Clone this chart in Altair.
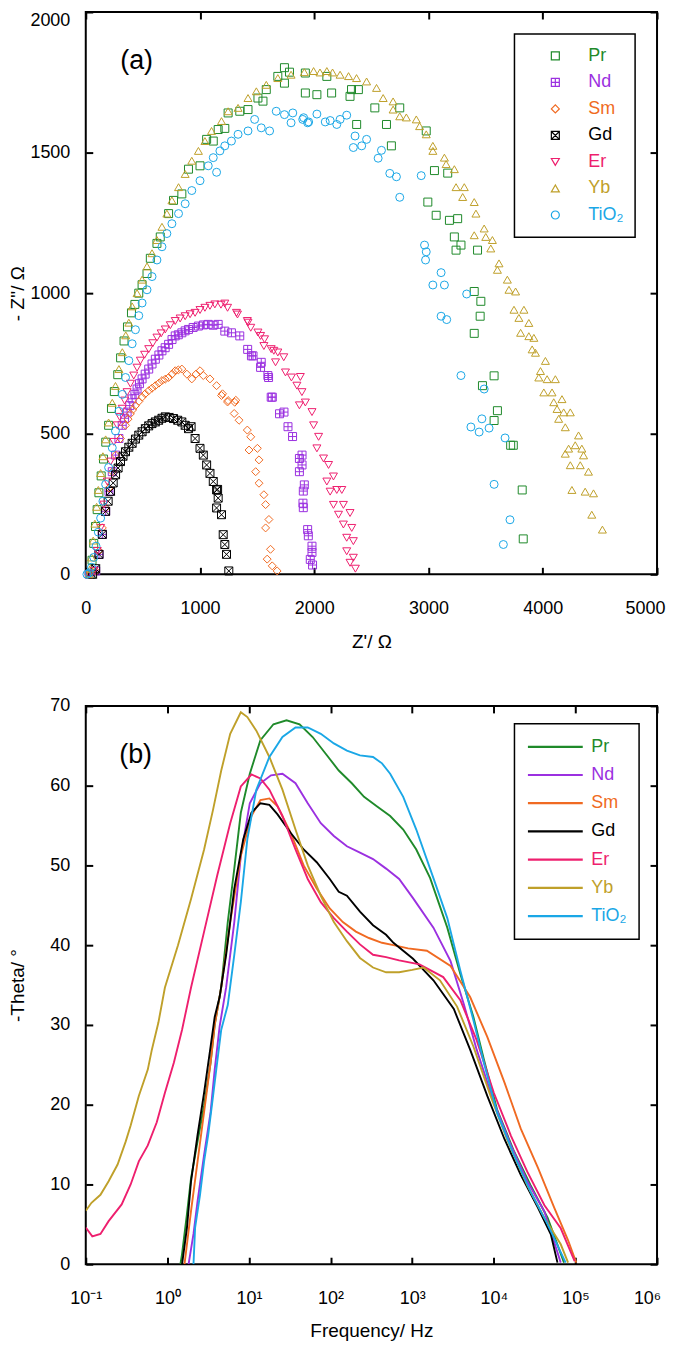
import altair as alt
import pandas as pd

SERIES = ["Pr", "Nd", "Sm", "Gd", "Er", "Yb", "TiO₂"]
COLORS = ["#1f8a2a", "#9b30e0", "#f06a22", "#000000", "#ee1f6e", "#bfa02a", "#1aa7e6"]
SQ_PLUS = "M-1,-1H1V1H-1Z M0,-1V1 M-1,0H1"
SQ_X = "M-1,-1H1V1H-1Z M-1,-1L1,1 M-1,1L1,-1"
SHAPES = ["square", SQ_PLUS, "diamond", SQ_X, "triangle-down", "triangle-up", "circle"]

# ---------------- (a) Nyquist: (Z', -Z'') ----------------
PR_A = [(40,0),(55,50),(70,110),(85,170),(100,230),(115,290),(135,350),(155,410),(175,470),(200,530),
        (225,590),(250,650),(280,710),(305,770),(335,830),(365,880),(400,930),(430,960),(464,1000),(493,1030),
        (536,1070),(565,1124),(623,1177),(652,1200),(725,1283),(768,1330),(841,1353),(899,1441),(1000,1453),
        (1058,1547),(1116,1541),(1159,1582),(1217,1586),(1246,1641),(1348,1647),(1420,1653),(1507,1694),
        (1551,1683),(1580,1724),(1681,1771),(1739,1747),(1739,1802),(1783,1786),(1922,1783),(1922,1712),
        (2023,1706),(2110,1771),(2152,1712),(2313,1700),(2326,1724),(2386,1724),(2371,1600),(2530,1659),
        (2632,1600),(2675,1524),(2748,1659),(2980,1577),(2994,1324),(3052,1436),(3067,1277),(3168,1427),
        (3183,1259),(3226,1200),(3241,1153),(3255,1265),(3284,1171),(3400,1006),(3400,857),(3429,1153),
        (3452,918),(3458,971),(3472,671),(3574,706),(3574,547),(3603,582),(3719,459),(3742,459),(3820,300),
        (3829,126)]
ND_A = [(30,0),(87,12),(116,71),(145,142),(174,224),(203,295),(232,365),(261,424),(290,483),(319,530),
        (340,555),(362,577),(385,600),(406,624),(430,640),(449,659),(470,678),(493,695),(520,712),(551,730),
        (580,748),(609,765),(640,780),(667,795),(695,806),(725,818),(755,835),(783,848),(810,852),(841,859),
        (870,866),(899,871),(940,878),(986,883),(1030,887),(1072,889),(1115,886),(1159,889),(1217,865),
        (1275,859),(1348,848),(1417,800),(1450,777),(1464,777),(1530,736),(1536,754),(1594,707),(1600,700),
        (1623,630),(1633,630),(1696,571),(1735,577),(1770,525),(1810,490),(1870,412),(1893,424),(1893,389),
        (1870,365),(1913,318),(1904,296),(1901,253),(1904,237),(1942,159),(1948,137),(1980,100),(1980,78),
        (1965,53),(1985,33)]
SM_A = [(30,0),(87,12),(116,83),(145,165),(174,236),(203,307),(232,365),(261,424),(304,483),(348,530),
        (370,552),(391,571),(413,586),(435,600),(465,615),(493,630),(520,642),(551,653),(580,662),(609,671),
        (640,680),(667,689),(695,694),(725,700),(755,712),(783,724),(810,727),(841,730),(885,712),(928,695),
        (965,712),(1000,724),(1029,707),(1087,695),(1145,671),(1188,636),(1197,642),(1241,613),(1246,618),
        (1304,612),(1313,619),(1299,572),(1342,548),(1414,513),(1444,489),(1429,442),(1502,448),(1516,407),
        (1487,365),(1516,324),(1559,283),(1574,248),(1603,195),(1574,165),(1617,89),(1588,54),(1632,30),
        (1675,12)]
GD_A = [(60,0),(87,20),(116,71),(145,142),(174,224),(196,260),(217,295),(240,325),(261,354),(283,378),
        (304,401),(326,420),(348,436),(377,452),(406,466),(435,481),(464,495),(493,507),(522,518),(551,528),
        (580,536),(609,542),(638,548),(667,555),(696,560),(730,558),(768,554),(805,548),(841,542),(870,530),
        (899,518),(922,525),(957,483),(1000,448),(1029,424),(1058,389),(1087,359),(1116,330),(1145,300),
        (1154,302),(1159,271),(1145,236),(1188,212),(1203,141),(1217,106),(1232,71),(1252,12)]
ER_A = [(30,0),(72,12),(101,83),(130,165),(159,248),(188,330),(217,401),(246,471),(275,530),(297,560),
        (319,589),(340,618),(362,648),(391,678),(420,707),(449,735),(478,760),(515,781),(551,801),(587,822),
        (623,842),(660,857),(696,871),(740,886),(783,901),(826,910),(870,918),(913,925),(957,930),(1000,940),
        (1043,948),(1087,955),(1130,960),(1183,959),(1217,963),(1241,948),(1319,930),(1328,924),(1414,901),
        (1420,895),(1444,877),(1507,860),(1530,848),(1559,812),(1565,836),(1623,801),(1646,795),(1661,754),
        (1681,789),(1733,772),(1748,718),(1800,700),(1848,671),(1878,702),(1892,648),(1870,601),(1922,611),
        (1980,577),(1994,530),(2038,489),(2023,448),(2081,412),(2125,389),(2110,330),(2168,348),(2139,294),
        (2197,300),(2241,300),(2168,247),(2255,247),(2212,212),(2313,218),(2255,177),(2328,165),(2284,130),
        (2342,118),(2284,82),(2342,59),(2313,41),(2360,20)]
YB_A = [(30,0),(40,20),(50,60),(65,120),(80,180),(95,240),(110,300),(130,360),(150,420),(174,480),
        (200,540),(232,610),(260,670),(290,730),(320,790),(350,850),(377,895),(406,953),(449,1000),(493,1048),
        (536,1095),(580,1142),(623,1189),(667,1236),(710,1283),(754,1330),(812,1377),(870,1424),(928,1471),
        (986,1506),(1043,1541),(1101,1577),(1188,1612),(1246,1647),(1333,1659),(1420,1694),(1493,1718),
        (1580,1741),(1681,1765),(1797,1777),(1913,1786),(1994,1790),(2050,1785),(2110,1790),(2160,1785),
        (2226,1777),(2300,1772),(2370,1765),(2458,1753),(2545,1730),(2603,1694),(2690,1682),(2690,1653),
        (2748,1629),(2806,1625),(2893,1618),(2922,1594),(2980,1565),(3038,1524),(3038,1506),(3139,1482),
        (3154,1459),(3226,1441),(3241,1377),(3313,1377),(3299,1342),(3400,1324),(3415,1283),(3400,1206),
        (3487,1230),(3501,1200),(3559,1189),(3545,1159),(3617,1106),(3603,1083),(3690,1048),(3704,1012),
        (3762,1006),(3748,941),(3835,941),(3791,912),(3878,894),(3806,859),(3878,847),(3922,841),(3907,800),
        (3936,788),(4023,759),(3980,723),(3965,700),(4038,694),(4110,694),(4009,647),(4081,647),(4096,612),
        (4168,623),(4125,588),(4183,576),(4241,576),(4139,553),(4197,523),(4313,494),(4284,459),(4226,447),
        (4342,447),(4197,429),(4357,423),(4241,388),(4328,388),(4400,365),(4255,300),(4371,294),(4444,288),
        (4429,212),(4522,159)]
TI_A = [(10,0),(30,5),(50,25),(70,60),(90,100),(110,150),(130,200),(150,260),(174,320),(200,380),
        (232,450),(260,510),(290,580),(320,640),(348,700),(377,760),(406,820),(435,870),(464,920),(493,965),
        (536,1012),(580,1059),(623,1118),(667,1165),(710,1212),(754,1247),(812,1283),(870,1318),(928,1365),
        (1000,1400),(1072,1453),(1145,1430),(1116,1482),(1174,1506),(1217,1524),(1275,1541),(1333,1565),
        (1420,1577),(1478,1618),(1536,1588),(1609,1577),(1667,1647),(1739,1635),(1797,1606),(1812,1641),
        (1899,1618),(1907,1624),(1942,1606),(1951,1609),(2023,1637),(2096,1609),(2139,1614),(2197,1600),
        (2226,1618),(2284,1633),(2342,1518),(2357,1559),(2415,1524),(2458,1547),(2559,1480),(2588,1508),
        (2661,1426),(2719,1414),(2748,1341),(2936,1418),(2965,1171),(2974,1118),(2980,1147),(3038,1029),
        (3110,1073),(3110,918),(3139,1029),(3159,906),(3284,707),(3334,997),(3467,553),(3371,524),(3443,506),
        (3487,659),(3530,520),(3670,485),(3574,320),(3713,194),(3655,106)]
NYQUIST = [PR_A, ND_A, SM_A, GD_A, ER_A, YB_A, TI_A]

# ---------------- (b) Bode phase: (log10 f, -theta) ----------------
PR_B = [(0.16,0),(0.18,1.3),(0.24,6.3),(0.29,10.8),(0.37,15.4),(0.45,19.9),(0.53,25.3),(0.58,30.0),
        (0.66,34.7),(0.74,42.9),(0.82,49.6),(0.90,56.6),(1.01,61.5),(1.14,65.7),(1.30,67.7),(1.46,68.2),
        (1.62,67.7),(1.78,66.1),(1.94,64.0),(2.10,61.9),(2.26,60.3),(2.41,58.6),(2.57,57.4),(2.73,56.2),
        (2.89,54.5),(3.05,52.0),(3.22,48.4),(3.43,42.2),(3.59,36.4),(3.75,31.0),(3.88,25.6),(4.04,19.4),
        (4.25,14.1),(4.45,9.9),(4.66,5.8),(4.86,0.2)]
ND_B = [(0.26,0),(0.32,3.8),(0.37,7.9),(0.45,13.7),(0.53,19.1),(0.58,24.4),(0.64,29.8),(0.72,34.7),
        (0.82,42.9),(0.90,51.2),(1.01,57.8),(1.14,60.3),(1.27,61.3),(1.41,61.5),(1.57,60.3),(1.72,57.8),
        (1.88,55.3),(2.04,53.7),(2.20,52.4),(2.36,51.6),(2.52,50.8),(2.68,49.6),(2.84,48.3),(3.01,45.9),
        (3.26,42.2),(3.47,38.0),(3.63,32.7),(3.79,26.9),(4.00,20.3),(4.21,14.9),(4.41,10.4),(4.62,6.6),
        (4.82,0.2)]
SM_B = [(0.21,0),(0.29,6.7),(0.37,12.9),(0.45,19.1),(0.53,25.3),(0.58,30.0),(0.66,34.7),(0.77,42.9),
        (0.90,51.2),(1.03,56.2),(1.14,58.2),(1.25,58.4),(1.35,57.4),(1.51,54.1),(1.67,50.0),(1.83,47.1),
        (1.99,44.6),(2.15,42.9),(2.31,41.7),(2.47,40.9),(2.63,40.3),(2.77,40.0),(2.95,39.6),(3.18,39.3),
        (3.47,37.4),(3.71,33.5),(3.92,28.5),(4.13,22.8),(4.33,17.0),(4.54,12.1),(4.74,7.1),(4.91,3.0),
        (5.01,0.2)]
GD_B = [(0.18,0),(0.24,4.6),(0.29,10.4),(0.37,16.2),(0.45,21.5),(0.53,27.3),(0.58,31.0),(0.64,33.5),
        (0.72,38.8),(0.82,47.1),(0.93,53.3),(1.03,56.6),(1.14,57.8),(1.25,57.6),(1.35,56.4),(1.51,54.1),
        (1.67,52.0),(1.83,50.4),(1.99,48.3),(2.10,46.7),(2.20,46.2),(2.36,44.2),(2.52,42.5),(2.68,41.3),
        (2.77,40.3),(3.01,38.3),(3.26,35.6),(3.51,32.0),(3.71,26.9),(3.92,21.1),(4.13,15.7),(4.33,11.2),
        (4.54,7.1),(4.70,3.7),(4.78,0.2)]
ER_B = [(-1.0,4.6),(-0.92,3.5),(-0.82,3.8),(-0.72,5.4),(-0.56,7.5),(-0.45,10.0),(-0.35,12.9),(-0.24,14.9),
        (-0.13,17.8),(-0.03,21.5),(0.08,25.3),(0.18,29.4),(0.29,34.7),(0.45,41.7),(0.61,48.7),(0.77,55.3),
        (0.90,59.9),(1.03,61.4),(1.14,60.9),(1.25,59.5),(1.41,56.2),(1.57,52.0),(1.72,48.3),(1.88,45.4),
        (2.04,43.4),(2.20,41.7),(2.36,40.1),(2.52,38.8),(2.68,38.5),(2.84,38.1),(3.09,37.6),(3.38,36.0),
        (3.59,33.1),(3.79,28.1),(4.00,21.5),(4.21,16.1),(4.41,11.6),(4.62,7.4),(4.82,4.5),(4.99,0.4)]
YB_B = [(-1.0,6.7),(-0.93,7.7),(-0.82,8.7),(-0.72,10.4),(-0.61,12.5),(-0.51,15.4),(-0.45,17.4),(-0.35,21.1),
        (-0.24,24.4),(-0.19,26.9),(-0.11,30.3),(-0.03,34.7),(0.13,40.0),(0.29,45.8),(0.45,52.0),(0.56,57.0),
        (0.66,61.9),(0.77,66.5),(0.90,69.2),(0.98,68.6),(1.09,66.9),(1.25,63.6),(1.41,59.5),(1.57,54.5),
        (1.72,50.0),(1.88,46.2),(2.04,42.9),(2.20,40.5),(2.36,38.4),(2.52,37.2),(2.68,36.6),(2.84,36.6),
        (3.00,36.9),(3.14,37.2),(3.34,35.6),(3.55,32.3),(3.75,27.3),(3.96,21.1),(4.16,15.7),(4.41,9.9),
        (4.62,5.8),(4.82,2.5),(4.91,0.2)]
TI_B = [(0.32,0),(0.34,4.6),(0.40,8.7),(0.45,12.9),(0.50,16.2),(0.56,21.1),(0.61,25.3),(0.66,29.4),
        (0.74,32.5),(0.82,38.8),(0.90,45.4),(0.98,53.3),(1.09,59.5),(1.25,63.6),(1.41,66.1),(1.57,67.3),
        (1.72,67.3),(1.88,66.5),(2.04,65.3),(2.20,64.4),(2.36,63.8),(2.52,63.6),(2.63,62.8),(2.73,61.5),
        (2.89,58.6),(3.05,54.5),(3.26,48.4),(3.43,43.4),(3.59,36.8),(3.75,30.6),(3.88,25.2),(4.04,19.0),
        (4.25,13.6),(4.45,9.1),(4.66,5.0),(4.88,0.2)]
BODE = [PR_B, ND_B, SM_B, GD_B, ER_B, YB_B, TI_B]

X_TICKS_A = [0, 1000, 2000, 3000, 4000, 5000]
Y_TICKS_A = [0, 500, 1000, 1500, 2000]
X_TICKS_B = [0.1, 1, 10, 100, 1000, 10000, 100000, 1000000]
Y_TICKS_B = [0, 10, 20, 30, 40, 50, 60, 70]

rows = []
for name, pts in zip(SERIES, NYQUIST):
    for zr, zi in pts:
        rows.append({"series": name, "zre": zr, "zim": zi})
df_a = pd.DataFrame(rows)

rows = []
for name, pts in zip(SERIES, BODE):
    for i, (lg, th) in enumerate(pts):
        rows.append({"series": name, "freq": 10 ** lg, "theta": th, "idx": i})
df_b = pd.DataFrame(rows)

FONT = "Liberation Sans"
W, HA, HB, TICK = 573, 564, 560, 7

label_color = {"expr": "".join(f"datum.label === '{s}' ? '{c}' : " for s, c in zip(SERIES, COLORS)) + "'black'"}
SUP_EXPR = "'10' + ['⁻¹','⁰','¹','²','³','⁴','⁵','⁶'][round(log(datum.value) / LN10) + 1]"


def main_axis(title, values, **kw):
    return alt.Axis(title=title, values=values, offset=-TICK, tickSize=TICK, tickWidth=2,
                    tickColor="black", domain=False, grid=False, labelFontSize=18,
                    titleFontSize=19, labelFlush=False, **kw)


def tick_axis(orient, values):
    return alt.Axis(orient=orient, values=values, offset=-TICK, tickSize=TICK, tickWidth=2,
                    tickColor="black", domain=False, grid=False, labels=False, title=None)


color_scale = alt.Scale(domain=SERIES, range=COLORS)

legend_a = alt.Legend(title=None, orient="top-right", offset=22, fillColor="white",
                      strokeColor="black", padding=11, symbolSize=64, symbolStrokeWidth=1.2,
                      symbolOffset=21, labelOffset=24, labelFontSize=18, labelColor=label_color,
                      rowPadding=4.6, clipHeight=22, labelLimit=200)
legend_b = alt.Legend(title=None, orient="top-right", offset=18, fillColor="white",
                      strokeColor="black", padding=12, symbolType="stroke", symbolSize=3025,
                      symbolStrokeWidth=2.2, labelOffset=7, labelFontSize=18,
                      labelColor=label_color, rowPadding=6.3, clipHeight=22, labelLimit=200)

# ---------- panel (a) ----------
sx_a = alt.Scale(domain=[0, 5000], nice=False, zero=False)
sy_a = alt.Scale(domain=[0, 2000], nice=False, zero=False)

pts_a = alt.Chart(df_a).mark_point(filled=False, size=64, strokeWidth=1, opacity=1).encode(
    x=alt.X("zre:Q", scale=sx_a,
            axis=main_axis("Z'/ Ω", X_TICKS_A, labelPadding=25, titlePadding=15, format="d",
                           labelOffset={"condition": {"test": "datum.value >= 5000", "value": -12}, "value": 0})),
    y=alt.Y("zim:Q", scale=sy_a,
            axis=main_axis("- Z''/ Ω", Y_TICKS_A, labelPadding=16, titleX=-65, format="d",
                           labelBaseline={"condition": {"test": "datum.value >= 2000", "value": "top"}, "value": "middle"})),
    color=alt.Color("series:N", scale=color_scale, legend=legend_a),
    shape=alt.Shape("series:N", scale=alt.Scale(domain=SERIES, range=SHAPES), legend=legend_a),
)
ticks_a = alt.Chart(df_a).mark_point(opacity=0).encode(
    x=alt.X("zre:Q", scale=sx_a, axis=tick_axis("top", X_TICKS_A)),
    y=alt.Y("zim:Q", scale=sy_a, axis=tick_axis("right", Y_TICKS_A)),
)
tag_a = alt.Chart(pd.DataFrame({"tag": ["(a)"]})).mark_text(
    fontSize=27, font=FONT, align="center", baseline="middle", color="black"
).encode(text="tag:N", x=alt.value(51), y=alt.value(49))

panel_a = alt.layer(ticks_a, pts_a, tag_a).resolve_axis(
    x="independent", y="independent").properties(width=W, height=HA)

# ---------- panel (b) ----------
sx_b = alt.Scale(type="log", domain=[0.1, 1000000], nice=False)
sy_b = alt.Scale(domain=[0, 70], nice=False, zero=False)

lines_b = alt.Chart(df_b).mark_line(strokeWidth=1.9, clip=True).encode(
    x=alt.X("freq:Q", scale=sx_b,
            axis=main_axis("Frequency/ Hz", X_TICKS_B, labelPadding=25, titlePadding=15,
                           labelExpr=SUP_EXPR,
                           labelOffset={"condition": {"test": "datum.value >= 1000000", "value": -10}, "value": 0})),
    y=alt.Y("theta:Q", scale=sy_b,
            axis=main_axis("-Theta/ °", Y_TICKS_B, labelPadding=16, titleX=-65)),
    color=alt.Color("series:N", scale=color_scale, legend=legend_b),
    order="idx:Q",
)
ticks_b = alt.Chart(df_b).mark_point(opacity=0).encode(
    x=alt.X("freq:Q", scale=sx_b, axis=tick_axis("top", X_TICKS_B)),
    y=alt.Y("theta:Q", scale=sy_b, axis=tick_axis("right", Y_TICKS_B)),
)
tag_b = alt.Chart(pd.DataFrame({"tag": ["(b)"]})).mark_text(
    fontSize=27, font=FONT, align="center", baseline="middle", color="black"
).encode(text="tag:N", x=alt.value(50), y=alt.value(49))

panel_b = alt.layer(ticks_b, lines_b, tag_b).resolve_axis(
    x="independent", y="independent").properties(width=W, height=HB)

chart = alt.vconcat(panel_a, panel_b, spacing=44).resolve_scale(
    color="independent", shape="independent"
).resolve_legend(color="independent", shape="independent").properties(
    padding={"left": 0, "right": 0, "top": 0, "bottom": 0}
).configure_view(stroke="black", strokeWidth=2).configure_axis(
    labelFont=FONT, titleFont=FONT, labelColor="black", titleColor="black",
    titleFontWeight="normal"
).configure_legend(labelFont=FONT, strokeWidth=1.5)

chart.save("out.html", embed_options={"renderer": "svg", "actions": False})
